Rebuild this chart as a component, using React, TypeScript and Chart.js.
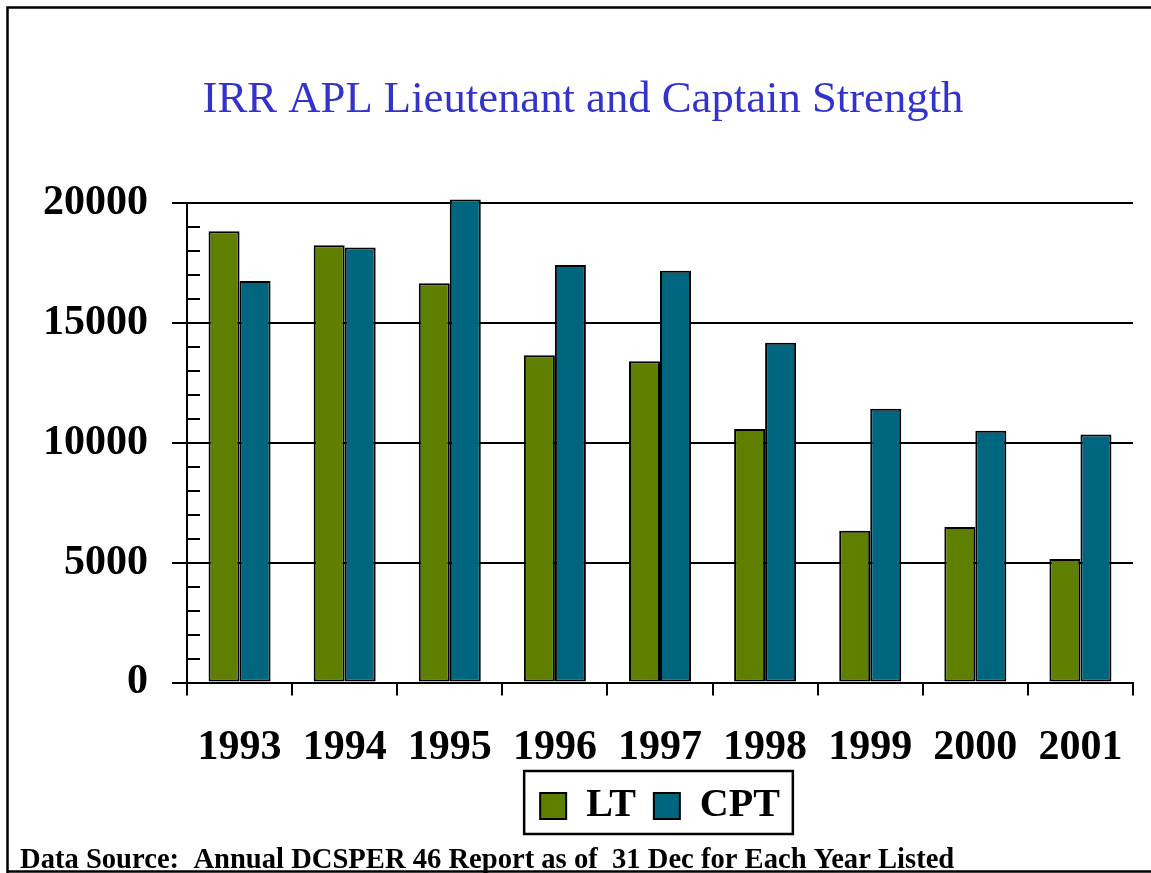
import React, { useEffect, useRef } from "react";
import { Chart, registerables } from "chart.js";

Chart.register(...registerables);

const years = ["1993", "1994", "1995", "1996", "1997", "1998", "1999", "2000", "2001"];
const ltValues = [18820, 18240, 16650, 13650, 13400, 10580, 6330, 6490, 5150];
const cptValues = [16750, 18150, 20150, 17420, 17180, 14170, 11420, 10500, 10350];
const seriesNames = ["LT", "CPT"];
const titleText = "IRR APL Lieutenant and Captain Strength";
const footerText = "Data Source:  Annual DCSPER 46 Report as of  31 Dec for Each Year Listed";
const yMax = 20000;
const yStep = 5000;
const yMinorStep = 1000;

const FONT = "'Liberation Serif', 'Times New Roman', serif";

const decorPlugin = {
  id: "decor",
  afterDraw(chart: any) {
    const ctx = chart.ctx;
    const y = chart.scales.y;
    ctx.save();
    // minor ticks inside the plot on the y axis
    ctx.strokeStyle = "#000";
    ctx.lineWidth = 2;
    const left = chart.chartArea.left;
    for (let v = 0; v <= yMax; v += yMinorStep) {
      if (v % yStep === 0) continue;
      const py = Math.round(y.getPixelForValue(v));
      ctx.beginPath();
      ctx.moveTo(left, py);
      ctx.lineTo(left + 13, py);
      ctx.stroke();
    }
    // legend frame
    const hb = chart.legend && chart.legend.legendHitBoxes;
    if (hb && hb.length) {
      const l = hb[0].left - 16;
      const last = hb[hb.length - 1];
      const r = last.left + last.width + 13;
      const t = hb[0].top - 15;
      const b = hb[0].top + hb[0].height + 8;
      ctx.lineWidth = 2.5;
      ctx.strokeRect(l, t, r - l, b - t);
    }
    // outer frame
    ctx.lineWidth = 2.5;
    ctx.beginPath();
    ctx.moveTo(chart.width, 7.5);
    ctx.lineTo(7.5, 7.5);
    ctx.lineTo(7.5, chart.height);
    ctx.stroke();
    ctx.beginPath();
    ctx.moveTo(7.5, 871.5);
    ctx.lineTo(chart.width, 871.5);
    ctx.stroke();
    // footer
    ctx.fillStyle = "#000";
    ctx.font = "bold 28.6px " + FONT;
    ctx.textAlign = "left";
    ctx.textBaseline = "alphabetic";
    ctx.fillText(footerText, 20, 868);
    ctx.restore();
  },
};

export default function App() {
  const ref = useRef<HTMLCanvasElement | null>(null);
  useEffect(() => {
    if (!ref.current) return;
    const chart = new Chart(ref.current, {
      type: "bar",
      data: {
        labels: years,
        datasets: [
          {
            label: seriesNames[0],
            data: ltValues,
            backgroundColor: "#5f7f00",
            borderColor: "#000",
            borderWidth: 2,
            borderSkipped: false,
            clip: false as any,
          },
          {
            label: seriesNames[1],
            data: cptValues,
            backgroundColor: "#006680",
            borderColor: "#000",
            borderWidth: 2,
            borderSkipped: false,
            clip: false as any,
          },
        ],
      },
      options: {
        responsive: false,
        animation: false,
        devicePixelRatio: 1,
        layout: { padding: { left: 33, right: 18, top: 0, bottom: 37 } },
        datasets: { bar: { categoryPercentage: 0.59, barPercentage: 1.0 } },
        plugins: {
          title: {
            display: true,
            text: titleText,
            color: "#3333cc",
            font: { family: FONT, size: 44.7, weight: "normal" },
            padding: { top: 73, bottom: 76.4 },
          },
          legend: {
            display: true,
            position: "bottom",
            fullSize: false,
            labels: {
              color: "#000",
              font: { family: FONT, size: 40, weight: "bold" },
              boxWidth: 26,
              boxHeight: 26,
              padding: 18,
            },
          },
          tooltip: { enabled: false },
        },
        scales: {
          x: {
            grid: {
              display: true,
              drawOnChartArea: false,
              drawTicks: true,
              tickLength: 13,
              color: "#000",
              lineWidth: 2,
            },
            border: { display: true, color: "#000", width: 2 },
            ticks: {
              color: "#000",
              font: { family: FONT, size: 42, weight: "bold" },
              padding: 27,
              maxRotation: 0,
              autoSkip: false,
            },
            afterFit: (s: any) => {
              s.height = 85.4;
            },
          },
          y: {
            min: 0,
            max: yMax,
            grid: {
              color: "#000",
              lineWidth: 2,
              drawTicks: true,
              tickLength: 15,
            },
            border: { display: true, color: "#000", width: 2 },
            ticks: {
              stepSize: yStep,
              color: "#000",
              font: { family: FONT, size: 42, weight: "bold" },
              padding: 24,
              callback: (v: any) => String(v),
            },
            afterFit: (s: any) => {
              s.width = 154;
            },
          },
        },
      },
      plugins: [decorPlugin],
    });
    return () => chart.destroy();
  }, []);
  return (
    <div style={{ position: "absolute", left: 0, top: 0, width: 1151, height: 873, background: "#fff" }}>
      <canvas ref={ref} width={1151} height={873} style={{ width: 1151, height: 873 }} />
    </div>
  );
}
